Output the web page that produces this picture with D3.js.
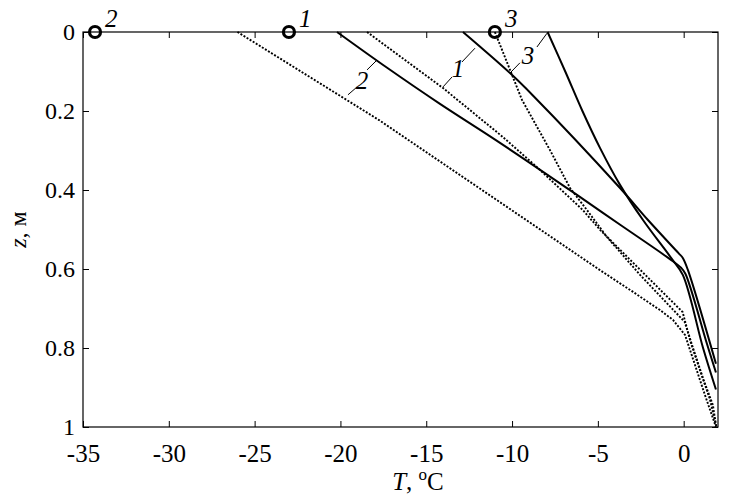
<!DOCTYPE html>
<html>
<head>
<meta charset="utf-8">
<script src="https://cdn.jsdelivr.net/npm/d3@7"></script>
<style>
    body { margin: 0; background: #fff; }
    svg { display: block; }
    text { font-family: "Liberation Serif", "DejaVu Serif", serif; fill: #000; }
</style>
</head>
<body>
<div id="chart"></div>
<script>
    'use strict';

    // ticks
    var tempTicks = [-35, -30, -25, -20, -15, -10, -5, 0];
    var depthTicks = [0, 0.2, 0.4, 0.6, 0.8, 1];

    // profiles, [T, z]
    var solid1 = [[-12.86, 0], [-10.12, 0.104], [-8.8, 0.16], [-3.71, 0.395],
        [-2.08, 0.476], [-0.3, 0.56], [-0.05, 0.572], [0.25, 0.603], [1.88, 0.84]];
    var solid2 = [[-20.2, 0], [-17.3, 0.09], [-14.2, 0.182], [-10.9, 0.275], [-6.3, 0.41],
        [-3.7, 0.488], [-0.8, 0.575], [-0.15, 0.597], [0.1, 0.612], [1.36, 0.79], [1.88, 0.862]];
    var solid3 = [[-7.93, 0], [-6.9, 0.1], [-5.9, 0.2], [-4.87, 0.294], [-3.71, 0.387],
        [-2.37, 0.476], [-0.68, 0.575], [-0.05, 0.615], [1.13, 0.8], [1.88, 0.905]];
    var dotted1 = [[-18.45, 0], [-14.02, 0.142], [-10.53, 0.266], [-8.55, 0.342], [-5.87, 0.451],
        [-4.87, 0.501], [-0.06, 0.709], [0.37, 0.78], [0.95, 0.856], [1.53, 0.93], [1.88, 0.995]];
    var dotted2 = [[-26.0, 0], [-17.75, 0.223], [-4.87, 0.603], [-2.95, 0.658], [-1.38, 0.704],
        [-0.62, 0.729], [0.08, 0.767], [0.66, 0.843], [1.24, 0.919], [1.88, 1.0]];
    var dotted3 = [[-11.0, 0], [-9.42, 0.172], [-7.79, 0.299], [-6.62, 0.395], [-5.63, 0.451],
        [-4.47, 0.519], [-2.54, 0.615], [0.06, 0.734], [0.58, 0.805], [1.16, 0.881], [1.7, 0.944], [1.9, 1.0]];

    // surface air temperatures (circles)
    var markerT = [-34.3, -23.0, -11.0];
    var markerNames = ['2', '1', '3'];

    // curve labels with leader segments [T, z]
    var curveLabels = [
        { name: '2', at: [-18.74, 0.122], lo: [[-19.56, 0.159], [-19.03, 0.139]], hi: [[-18.45, 0.096], [-17.87, 0.071]] },
        { name: '1', at: [-13.15, 0.091], lo: [[-14.02, 0.139], [-13.5, 0.114]], hi: [[-12.92, 0.076], [-12.16, 0.041]] },
        { name: '3', at: [-9.07, 0.058], lo: [[-10.12, 0.104], [-9.54, 0.078]], hi: [[-8.55, 0.038], [-7.96, 0.003]] }
    ];

    var width = 729;
    var height = 499;
    var margin = { top: 32, right: 11, bottom: 72, left: 83 };

    var svg = d3.select('#chart')
        .append('svg')
        .attr('width', width)
        .attr('height', height);

    var x = d3.scaleLinear().domain([-35, 2]).range([margin.left, width - margin.right]);
    var y = d3.scaleLinear().domain([0, 1]).range([margin.top, height - margin.bottom]);

    function translate(a, b) {
        return 'translate(' + a + ',' + b + ')';
    }

    function styleAxis(size) {
        return function (g) {
            g.select('.domain').remove();
            g.selectAll('line').attr('stroke', '#000').attr('stroke-width', 1);
            g.selectAll('text').style('font-size', size + 'px').attr('fill', '#000');
        };
    }

    svg.append('g')
        .attr('transform', translate(0, y(1)))
        .call(d3.axisBottom(x).tickValues(tempTicks).tickSize(-6).tickPadding(17)
            .tickFormat(function (d) { return String(d); }))
        .call(styleAxis(25));

    svg.append('g')
        .attr('transform', translate(0, y(0)))
        .call(d3.axisTop(x).tickValues(tempTicks).tickSize(-6).tickFormat(''))
        .call(styleAxis(25));

    svg.append('g')
        .attr('transform', translate(x(-35), 0))
        .call(d3.axisLeft(y).tickValues(depthTicks).tickSize(-6).tickPadding(8)
            .tickFormat(function (d) { return String(d); }))
        .call(styleAxis(24));

    svg.append('g')
        .attr('transform', translate(x(2), 0))
        .call(d3.axisRight(y).tickValues(depthTicks).tickSize(-6).tickFormat(''))
        .call(styleAxis(25));

    svg.append('rect')
        .attr('x', x(-35))
        .attr('y', y(0))
        .attr('width', x(2) - x(-35))
        .attr('height', y(1) - y(0))
        .attr('fill', 'none')
        .attr('stroke', '#000')
        .attr('stroke-width', 1.2);

    var line = d3.line()
        .x(function (d) { return x(d[0]); })
        .y(function (d) { return y(d[1]); });

    var smooth = d3.line()
        .curve(d3.curveCatmullRom.alpha(0.5))
        .x(function (d) { return x(d[0]); })
        .y(function (d) { return y(d[1]); });

    [solid1, solid2, solid3].forEach(function (s) {
        svg.append('path')
            .attr('d', smooth(s))
            .attr('fill', 'none')
            .attr('stroke', '#000')
            .attr('stroke-width', 2);
    });

    [dotted1, dotted2, dotted3].forEach(function (s) {
        svg.append('path')
            .attr('d', line(s))
            .attr('fill', 'none')
            .attr('stroke', '#000')
            .attr('stroke-width', 1.9)
            .attr('stroke-dasharray', '2,1.6');
    });

    // curve labels
    curveLabels.forEach(function (c) {
        [c.lo, c.hi].forEach(function (seg) {
            svg.append('line')
                .attr('x1', x(seg[0][0])).attr('y1', y(seg[0][1]))
                .attr('x2', x(seg[1][0])).attr('y2', y(seg[1][1]))
                .attr('stroke', '#000')
                .attr('stroke-width', 1);
        });
        svg.append('text')
            .attr('x', x(c.at[0]))
            .attr('y', y(c.at[1]))
            .attr('dy', '0.35em')
            .attr('text-anchor', 'middle')
            .style('font-size', '25px')
            .style('font-style', 'italic')
            .text(c.name);
    });

    // circles at surface
    markerT.forEach(function (t, i) {
        svg.append('circle')
            .attr('cx', x(t))
            .attr('cy', y(0))
            .attr('r', 5.5)
            .attr('fill', 'none')
            .attr('stroke', '#000')
            .attr('stroke-width', 3.2);
        svg.append('text')
            .attr('x', x(t) + 10)
            .attr('y', y(0) - 5)
            .style('font-size', '25px')
            .style('font-style', 'italic')
            .text(markerNames[i]);
    });

    // axis titles
    var xTitle = svg.append('text')
        .attr('x', 418)
        .attr('y', 490)
        .attr('text-anchor', 'middle')
        .style('font-size', '25px');
    xTitle.append('tspan').style('font-style', 'italic').text('T');
    xTitle.append('tspan').text(', ');
    xTitle.append('tspan').attr('dy', -10).style('font-size', '17px').text('o');
    xTitle.append('tspan').attr('dy', 10).text('C');

    var yTitle = svg.append('text')
        .attr('transform', translate(26, (y(0) + y(1)) / 2) + ' rotate(-90)')
        .attr('text-anchor', 'middle')
        .style('font-size', '24px');
    yTitle.append('tspan').style('font-style', 'italic').text('z');
    yTitle.append('tspan').text(', м');
</script>
</body>
</html>
